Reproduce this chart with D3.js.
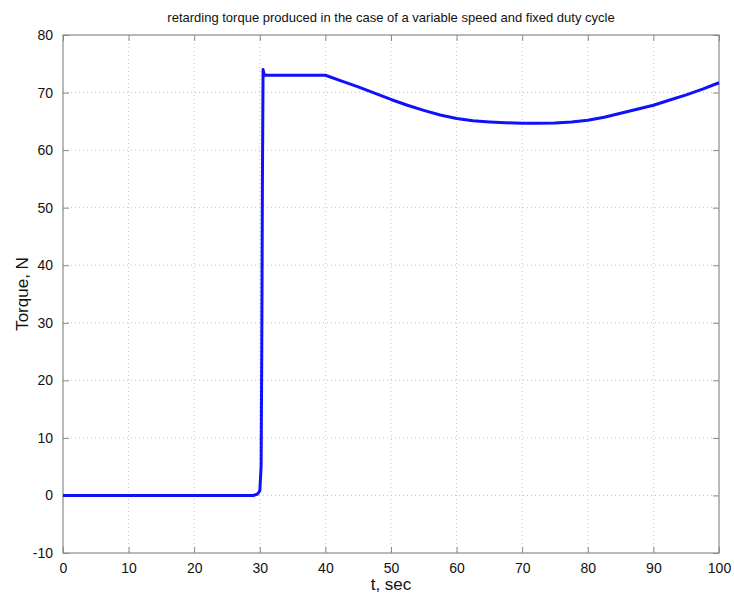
<!DOCTYPE html>
<html>
<head>
<meta charset="utf-8">
<script src="https://cdn.jsdelivr.net/npm/d3@7"></script>
<style>
  body { margin: 0; background: #fff; }
  text { font-family: 'Liberation Sans', Arial, sans-serif; }
</style>
</head>
<body>
<div id="chart"></div>
<script>
const timeSec = [0, 29, 29.6, 30, 30.2, 30.3, 30.4, 30.5, 30.6, 30.8, 35, 40, 42.5, 45, 47.5, 50, 52.5, 55, 57.5, 60, 62.5, 65, 67.5, 70, 72.5, 75, 77.5, 80, 82.5, 85, 87.5, 90, 92.5, 95, 97.5, 100]
const torque = [0, 0, 0.2, 0.8, 5, 25, 55, 74, 73.4, 73, 73, 73, 72.0, 71.0, 69.9, 68.8, 67.8, 66.9, 66.1, 65.5, 65.1, 64.9, 64.75, 64.65, 64.65, 64.7, 64.9, 65.2, 65.7, 66.4, 67.1, 67.8, 68.7, 69.6, 70.6, 71.7]
const xTicks = [0, 10, 20, 30, 40, 50, 60, 70, 80, 90, 100]
const yTicks = [-10, 0, 10, 20, 30, 40, 50, 60, 70, 80]

const margin = { top: 35, right: 15, bottom: 44, left: 63 }
const width = 734 - margin.left - margin.right
const height = 597 - margin.top - margin.bottom

const svgRoot = d3.select('#chart').append('svg')
  .attr('width', 734)
  .attr('height', 597)

const svg = svgRoot.append('g')
  .attr('transform', 'translate(' + margin.left + ',' + margin.top + ')')

const x = d3.scaleLinear().domain([0, 100]).range([0, width])
const y = d3.scaleLinear().domain([-10, 80]).range([height, 0])

// grid
svg.selectAll('.vgrid').data(xTicks.slice(1, -1)).enter().append('line')
  .attr('x1', d => x(d)).attr('x2', d => x(d))
  .attr('y1', 0).attr('y2', height)
  .attr('stroke', '#c4c4c4').attr('stroke-dasharray', '1,3')
svg.selectAll('.hgrid').data(yTicks.slice(1, -1)).enter().append('line')
  .attr('y1', d => y(d)).attr('y2', d => y(d))
  .attr('x1', 0).attr('x2', width)
  .attr('stroke', '#c4c4c4').attr('stroke-dasharray', '1,3')

// axes with inward ticks
const fmt = d => String(d)
const xAxis = d3.axisBottom(x).tickValues(xTicks).tickSize(-6).tickPadding(10).tickSizeOuter(0).tickFormat(fmt)
const yAxis = d3.axisLeft(y).tickValues(yTicks).tickSize(-6).tickPadding(10).tickSizeOuter(0).tickFormat(fmt)

svg.append('g').attr('transform', 'translate(0,' + height + ')').call(xAxis)
svg.append('g').call(yAxis)
svg.append('g').call(d3.axisTop(x).tickValues(xTicks).tickSize(-6).tickFormat('').tickSizeOuter(0))
svg.append('g').attr('transform', 'translate(' + width + ',0)')
  .call(d3.axisRight(y).tickValues(yTicks).tickSize(-6).tickFormat('').tickSizeOuter(0))

svg.selectAll('.domain').remove()
svg.selectAll('.tick line').attr('stroke', '#888')
svg.selectAll('.tick text').attr('font-size', 14).attr('fill', '#111')
  .style('font-family', "'Liberation Sans', Arial, sans-serif")

svg.append('rect')
  .attr('width', width).attr('height', height)
  .attr('fill', 'none').attr('stroke', '#8a8a8a').attr('stroke-width', 1.2)

// data line
const points = timeSec.map((t, i) => [t, torque[i]])
svg.append('path')
  .datum(points)
  .attr('fill', 'none')
  .attr('stroke', '#1010ff')
  .attr('stroke-width', 3)
  .attr('stroke-linejoin', 'round')
  .attr('d', d3.line().x(d => x(d[0])).y(d => y(d[1])))

// labels
svgRoot.append('text')
  .attr('x', margin.left + width / 2).attr('y', 22)
  .attr('text-anchor', 'middle').attr('font-size', 13).attr('fill', '#111')
  .text('retarding torque produced in the case of a variable speed and fixed duty cycle')

svgRoot.append('text')
  .attr('x', margin.left + width / 2).attr('y', 590)
  .attr('text-anchor', 'middle').attr('font-size', 17).attr('fill', '#111')
  .text('t, sec')

svgRoot.append('text')
  .attr('transform', 'translate(28,' + (margin.top + height / 2) + ') rotate(-90)')
  .attr('text-anchor', 'middle').attr('font-size', 17).attr('fill', '#111')
  .text('Torque, N')
</script>
</body>
</html>
